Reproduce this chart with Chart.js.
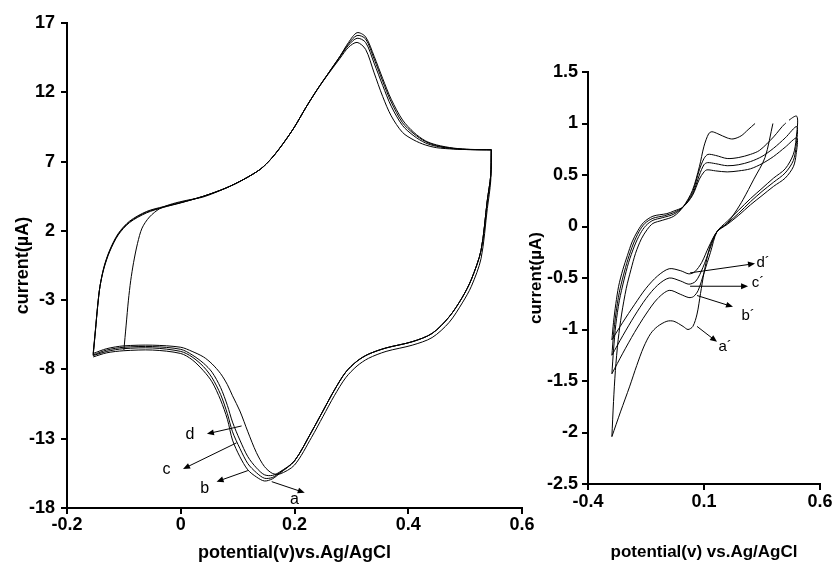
<!DOCTYPE html>
<html>
<head>
<meta charset="utf-8">
<title>Cyclic voltammograms</title>
<script src="https://cdn.jsdelivr.net/npm/chart.js@4.4.1/dist/chart.umd.min.js"></script>
<style>
  body { margin: 0; background: #fff; }
  #leftBox { position: absolute; left: 0; top: 0; width: 545px; height: 568px; }
  #rightBox { position: absolute; left: 520px; top: 0; width: 318px; height: 568px; }
</style>
</head>
<body>
<div id="leftBox"><canvas id="leftChart"></canvas></div>
<div id="rightBox"><canvas id="rightChart"></canvas></div>
<script>
// ---- left panel: potential (V) / current (µA) ----
const leftXTicks = [-0.2, 0, 0.2, 0.4, 0.6];
const leftYTicks = [-18, -13, -8, -3, 2, 7, 12, 17];

// forward (anodic) sweep, curves b, c, d
const leftAnodicV = [-0.154, -0.15, -0.146, -0.142, -0.135, -0.125, -0.11, -0.09, -0.06, -0.03, 0, 0.04, 0.08, 0.11, 0.14, 0.16, 0.18, 0.2, 0.22, 0.24, 0.26, 0.28, 0.295, 0.31, 0.325, 0.34, 0.355, 0.37, 0.39, 0.41, 0.43, 0.45, 0.48, 0.51, 0.546];
const leftAnodicIB = [-7.0, -5.2, -3.4, -2.0, -0.6, 0.6, 1.8, 2.7, 3.4, 3.75, 4.05, 4.5, 5.1, 5.7, 6.45, 7.25, 8.3, 9.5, 10.9, 12.2, 13.4, 14.6, 15.5, 16.1, 15.85, 14.4, 12.8, 11.3, 9.8, 9.0, 8.45, 8.15, 7.95, 7.87, 7.85];
const leftAnodicIC = [-6.95, -5.2, -3.4, -2.0, -0.65, 0.55, 1.75, 2.65, 3.35, 3.72, 4.03, 4.5, 5.1, 5.7, 6.45, 7.25, 8.3, 9.5, 10.9, 12.2, 13.4, 14.55, 15.4, 15.9, 15.6, 14.1, 12.5, 11.0, 9.6, 8.85, 8.35, 8.1, 7.92, 7.86, 7.85];
const leftAnodicID = [-6.85, -5.1, -3.35, -2.0, -0.7, 0.5, 1.7, 2.6, 3.3, 3.7, 4.02, 4.5, 5.1, 5.7, 6.45, 7.25, 8.3, 9.5, 10.9, 12.2, 13.35, 14.45, 15.25, 15.6, 15.1, 13.4, 11.7, 10.3, 9.1, 8.55, 8.2, 8.0, 7.9, 7.86, 7.85];
// curve a starts its sweep at -0.1 V
const leftAnodicVA = [-0.1, -0.096, -0.092, -0.088, -0.083, -0.076, -0.068, -0.055, -0.037, -0.015, 0.01, 0.04, 0.08, 0.11, 0.14, 0.16, 0.18, 0.2, 0.22, 0.24, 0.26, 0.28, 0.295, 0.31, 0.325, 0.34, 0.355, 0.37, 0.39, 0.41, 0.43, 0.45, 0.48, 0.51, 0.546];
const leftAnodicIA = [-6.6, -4.8, -3.0, -1.6, -0.3, 1.1, 2.2, 3.0, 3.6, 3.95, 4.2, 4.45, 5.1, 5.7, 6.45, 7.25, 8.3, 9.5, 10.9, 12.2, 13.4, 14.6, 15.6, 16.3, 16.0, 14.6, 13.0, 11.5, 10.0, 9.1, 8.5, 8.2, 7.97, 7.88, 7.85];

// reverse (cathodic) sweep
const leftCathodicV = [0.546, 0.545, 0.539, 0.528, 0.511, 0.495, 0.472, 0.442, 0.407, 0.361, 0.33, 0.31, 0.29, 0.27, 0.25, 0.23, 0.2, 0.174, 0.161, 0.147, 0.133, 0.118, 0.104, 0.091, 0.082, 0.07, 0.055, 0.04, 0.02, 0, -0.05, -0.1, -0.13, -0.154];
const leftCathodicIA = [7.85, 6.0, 4.2, 0.6, -1.5, -2.8, -4.2, -5.4, -6.0, -6.45, -6.9, -7.4, -8.2, -9.5, -11.0, -12.5, -14.6, -15.5, -15.9, -16.05, -15.76, -15.25, -14.3, -13.1, -11.6, -10.2, -8.9, -8.1, -7.3, -6.85, -6.6, -6.65, -6.8, -7.1];
const leftCathodicIB = [7.85, 6.0, 4.2, 0.6, -1.5, -2.8, -4.2, -5.4, -6.0, -6.45, -6.9, -7.4, -8.2, -9.5, -11.0, -12.5, -14.6, -15.45, -15.8, -15.85, -15.45, -14.8, -13.7, -12.5, -11.2, -9.8, -8.6, -7.8, -7.1, -6.7, -6.45, -6.5, -6.7, -7.0];
const leftCathodicIC = [7.85, 6.0, 4.2, 0.6, -1.5, -2.8, -4.2, -5.4, -6.0, -6.45, -6.9, -7.4, -8.2, -9.5, -11.0, -12.5, -14.6, -15.4, -15.65, -15.6, -15.1, -14.3, -13.1, -11.8, -10.6, -9.3, -8.2, -7.55, -6.95, -6.55, -6.35, -6.4, -6.6, -6.95];
const leftCathodicID = [7.85, 5.6, 3.6, 0.0, -2.0, -3.2, -4.6, -5.7, -6.25, -6.7, -7.2, -7.75, -8.6, -9.9, -11.4, -12.9, -14.9, -15.55, -15.5, -15.0, -14.0, -12.5, -11.0, -9.9, -9.1, -8.3, -7.6, -7.1, -6.7, -6.4, -6.25, -6.3, -6.5, -6.85];

// ---- right panel ----
const rightXTicks = [-0.4, 0.1, 0.6];
const rightYTicks = [-2.5, -2, -1.5, -1, -0.5, 0, 0.5, 1, 1.5];

// a´ runs off the top of the plot, so it has a gap
const rightVA = [-0.297, -0.29, -0.282, -0.27, -0.255, -0.235, -0.215, -0.195, -0.17, -0.145, -0.12, -0.08, -0.03, 0.01, 0.05, 0.08, 0.1, 0.12, 0.134, 0.16, 0.2, 0.225, 0.26, 0.29, 0.32, null, 0.397, 0.363, 0.315, 0.268, 0.235, 0.199, 0.156, 0.125, 0.1, 0.085, 0.07, 0.052, 0.031, 0.01, -0.03, -0.06, -0.1, -0.13, -0.16, -0.19, -0.22, -0.26, -0.297];
const rightIA = [-2.04, -1.7, -1.4, -1.1, -0.85, -0.6, -0.42, -0.26, -0.12, -0.03, 0.03, 0.06, 0.1, 0.19, 0.35, 0.58, 0.78, 0.9, 0.92, 0.9, 0.86, 0.85, 0.88, 0.94, 1.0, null, 1.0, 0.67, 0.46, 0.26, 0.14, 0.03, -0.05, -0.2, -0.45, -0.65, -0.85, -0.97, -1.0, -0.97, -0.92, -0.92, -0.97, -1.04, -1.17, -1.35, -1.55, -1.8, -2.04];
const rightVB = [-0.297, -0.29, -0.28, -0.265, -0.245, -0.225, -0.2, -0.175, -0.15, -0.12, -0.08, -0.03, 0.01, 0.05, 0.08, 0.1, 0.117, 0.15, 0.2, 0.25, 0.3, 0.34, 0.4, 0.45, 0.5, 0.497, 0.485, 0.45, 0.4, 0.35, 0.3, 0.25, 0.2, 0.156, 0.128, 0.1, 0.075, 0.055, 0.035, 0.0, -0.05, -0.1, -0.15, -0.2, -0.25, -0.297];
const rightIB = [-1.43, -1.2, -0.95, -0.72, -0.52, -0.35, -0.19, -0.07, 0.01, 0.06, 0.085, 0.12, 0.19, 0.33, 0.55, 0.66, 0.7, 0.69, 0.66, 0.67, 0.7, 0.74, 0.87, 1.0, 1.07, 0.85, 0.7, 0.56, 0.47, 0.37, 0.27, 0.16, 0.05, -0.05, -0.25, -0.45, -0.62, -0.68, -0.69, -0.66, -0.62, -0.7, -0.85, -1.03, -1.23, -1.43];
const rightVC = [-0.297, -0.29, -0.28, -0.265, -0.248, -0.228, -0.205, -0.18, -0.155, -0.12, -0.07, -0.03, 0.01, 0.05, 0.08, 0.1, 0.115, 0.15, 0.2, 0.25, 0.3, 0.35, 0.4, 0.45, 0.5, 0.497, 0.485, 0.45, 0.4, 0.35, 0.3, 0.25, 0.2, 0.156, 0.125, 0.095, 0.065, 0.035, 0.0, -0.05, -0.1, -0.15, -0.2, -0.25, -0.297];
const rightIC = [-1.25, -1.05, -0.85, -0.64, -0.48, -0.32, -0.17, -0.05, 0.03, 0.08, 0.105, 0.135, 0.19, 0.31, 0.5, 0.6, 0.62, 0.61, 0.59, 0.6, 0.63, 0.68, 0.76, 0.86, 0.97, 0.78, 0.64, 0.52, 0.43, 0.34, 0.24, 0.13, 0.03, -0.05, -0.22, -0.4, -0.53, -0.56, -0.53, -0.5, -0.57, -0.7, -0.87, -1.06, -1.25];
const rightVD = [-0.297, -0.29, -0.28, -0.268, -0.25, -0.23, -0.21, -0.185, -0.16, -0.12, -0.06, -0.03, 0.01, 0.05, 0.08, 0.1, 0.113, 0.15, 0.2, 0.25, 0.3, 0.35, 0.4, 0.45, 0.5, 0.497, 0.485, 0.45, 0.4, 0.35, 0.3, 0.25, 0.2, 0.156, 0.12, 0.09, 0.06, 0.035, 0.0, -0.05, -0.1, -0.15, -0.2, -0.25, -0.297];
const rightID = [-1.1, -0.93, -0.75, -0.58, -0.42, -0.28, -0.15, -0.04, 0.04, 0.1, 0.125, 0.15, 0.19, 0.3, 0.46, 0.53, 0.55, 0.54, 0.53, 0.54, 0.56, 0.61, 0.68, 0.77, 0.86, 0.7, 0.58, 0.47, 0.39, 0.3, 0.21, 0.11, 0.02, -0.05, -0.2, -0.35, -0.44, -0.46, -0.43, -0.41, -0.48, -0.6, -0.76, -0.93, -1.1];

// curve labels with their arrows (data units)
const leftLabels = ['d', 'c', 'b', 'a'];
const leftLabelAt = [[0.016, -12.73], [-0.025, -15.25], [0.042, -16.6], [0.2, -17.4]];
const leftArrowFrom = [[0.107, -12.08], [0.098, -13.3], [0.118, -15.3], [0.16, -16.1]];
const leftArrowTo = [[0.046, -12.65], [0.004, -15.18], [0.063, -16.1], [0.218, -16.9]];

const rightLabels = ['d\u00b4', 'c\u00b4', 'b\u00b4', 'a\u00b4'];
const rightLabelAt = [[0.355, -0.354], [0.333, -0.55], [0.29, -0.87], [0.191, -1.17]];
const rightArrowFrom = [[0.04, -0.45], [0.04, -0.58], [0.07, -0.67], [0.07, -0.97]];
const rightArrowTo = [[0.32, -0.36], [0.29, -0.58], [0.225, -0.78], [0.156, -1.12]];

const FONT = "'Liberation Sans', Arial, sans-serif";

function pts(xs, ys) {
    return xs.map((x, i) => ({ x: x, y: ys[i] }));
}

function curve(xs, ys, extra) {
    return Object.assign({
        data: pts(xs, ys),
        showLine: true,
        borderColor: '#000',
        borderWidth: 1,
        pointRadius: 0,
        tension: 0.3,
        fill: false
    }, extra || {});
}

// arrows + letters drawn over the plot
const curveLabels = {
    id: 'curveLabels',
    afterDatasetsDraw(chart, args, opts) {
        const { ctx } = chart;
        const sx = chart.scales.x, sy = chart.scales.y;
        ctx.save();
        ctx.strokeStyle = '#000';
        ctx.fillStyle = '#000';
        ctx.lineWidth = 1;
        opts.text.forEach((t, i) => {
            const x0 = sx.getPixelForValue(opts.from[i][0]);
            const y0 = sy.getPixelForValue(opts.from[i][1]);
            const x1 = sx.getPixelForValue(opts.to[i][0]);
            const y1 = sy.getPixelForValue(opts.to[i][1]);
            const ang = Math.atan2(y1 - y0, x1 - x0);
            ctx.beginPath();
            ctx.moveTo(x0, y0);
            ctx.lineTo(x1 - 5 * Math.cos(ang), y1 - 5 * Math.sin(ang));
            ctx.stroke();
            ctx.beginPath();
            ctx.moveTo(x1, y1);
            ctx.lineTo(x1 - 7 * Math.cos(ang) + 3 * Math.sin(ang), y1 - 7 * Math.sin(ang) - 3 * Math.cos(ang));
            ctx.lineTo(x1 - 7 * Math.cos(ang) - 3 * Math.sin(ang), y1 - 7 * Math.sin(ang) + 3 * Math.cos(ang));
            ctx.closePath();
            ctx.fill();
            ctx.font = opts.font;
            ctx.textAlign = 'center';
            ctx.textBaseline = 'middle';
            ctx.fillText(t, sx.getPixelForValue(opts.at[i][0]), sy.getPixelForValue(opts.at[i][1]));
        });
        ctx.restore();
    }
};

function axis(o) {
    return {
        type: 'linear',
        position: o.position,
        min: o.min,
        max: o.max,
        afterBuildTicks: s => { s.ticks = o.ticks.map(v => ({ value: v })); },
        afterFit: s => {
            if (o.position === 'left') s.width = o.size; else s.height = o.size;
        },
        ticks: {
            callback: v => String(v),
            color: '#000',
            padding: o.tickPad,
            autoSkip: false,
            maxRotation: 0,
            font: { family: FONT, size: o.fontSize, weight: 'bold' }
        },
        grid: { drawOnChartArea: false, tickLength: 6, color: '#000', lineWidth: 2 },
        border: { color: '#000', width: 2 },
        title: {
            display: true,
            text: o.title,
            color: '#000',
            padding: o.titlePad,
            font: { family: FONT, size: o.titleSize || o.fontSize, weight: 'bold' }
        }
    };
}

new Chart(document.getElementById('leftChart'), {
    type: 'scatter',
    data: {
        datasets: [
            curve(leftAnodicVA.concat(leftCathodicV), leftAnodicIA.concat(leftCathodicIA)),
            curve(leftAnodicV.concat(leftCathodicV), leftAnodicIB.concat(leftCathodicIB)),
            curve(leftAnodicV.concat(leftCathodicV), leftAnodicIC.concat(leftCathodicIC)),
            curve(leftAnodicV.concat(leftCathodicV), leftAnodicID.concat(leftCathodicID))
        ]
    },
    options: {
        responsive: true,
        maintainAspectRatio: false,
        animation: false,
        layout: { padding: { top: 23, right: 23, left: 0, bottom: 0 } },
        plugins: {
            legend: { display: false },
            tooltip: { enabled: false },
            curveLabels: { text: leftLabels, at: leftLabelAt, from: leftArrowFrom, to: leftArrowTo, font: '16px ' + FONT }
        },
        scales: {
            x: axis({ position: 'bottom', min: -0.2, max: 0.6, ticks: leftXTicks, size: 60, tickPad: 0, fontSize: 18,
                      title: 'potential(v)vs.Ag/AgCl', titlePad: { top: 0, bottom: 4 } }),
            y: axis({ position: 'left', min: -18, max: 17, ticks: leftYTicks, size: 67, tickPad: 6, fontSize: 18,
                      title: 'current(\u00b5A)', titlePad: { top: 12, bottom: 0 } })
        }
    },
    plugins: [curveLabels]
});

new Chart(document.getElementById('rightChart'), {
    type: 'scatter',
    data: {
        datasets: [
            curve(rightVA, rightIA),
            curve(rightVB, rightIB, {
                segment: { borderDash: c => (c.p0.parsed.y >= 1 && c.p1.parsed.y >= 1) ? [1, 4, 20] : undefined }
            }),
            curve(rightVC, rightIC),
            curve(rightVD, rightID)
        ]
    },
    options: {
        responsive: true,
        maintainAspectRatio: false,
        animation: false,
        layout: { padding: { top: 72, right: 18, left: 0, bottom: 0 } },
        plugins: {
            legend: { display: false },
            tooltip: { enabled: false },
            curveLabels: { text: rightLabels, at: rightLabelAt, from: rightArrowFrom, to: rightArrowTo, font: '15px ' + FONT }
        },
        scales: {
            x: axis({ position: 'bottom', min: -0.4, max: 0.6, ticks: rightXTicks, size: 84, tickPad: 1, fontSize: 18, titleSize: 17,
                      title: 'potential(v) vs.Ag/AgCl', titlePad: { top: 0, bottom: 5 } }),
            y: axis({ position: 'left', min: -2.5, max: 1.5, ticks: rightYTicks, size: 68, tickPad: 4, fontSize: 18, titleSize: 17,
                      title: 'current(\u00b5A)', titlePad: { top: 6, bottom: 0 } })
        }
    },
    plugins: [curveLabels]
});
</script>
</body>
</html>
